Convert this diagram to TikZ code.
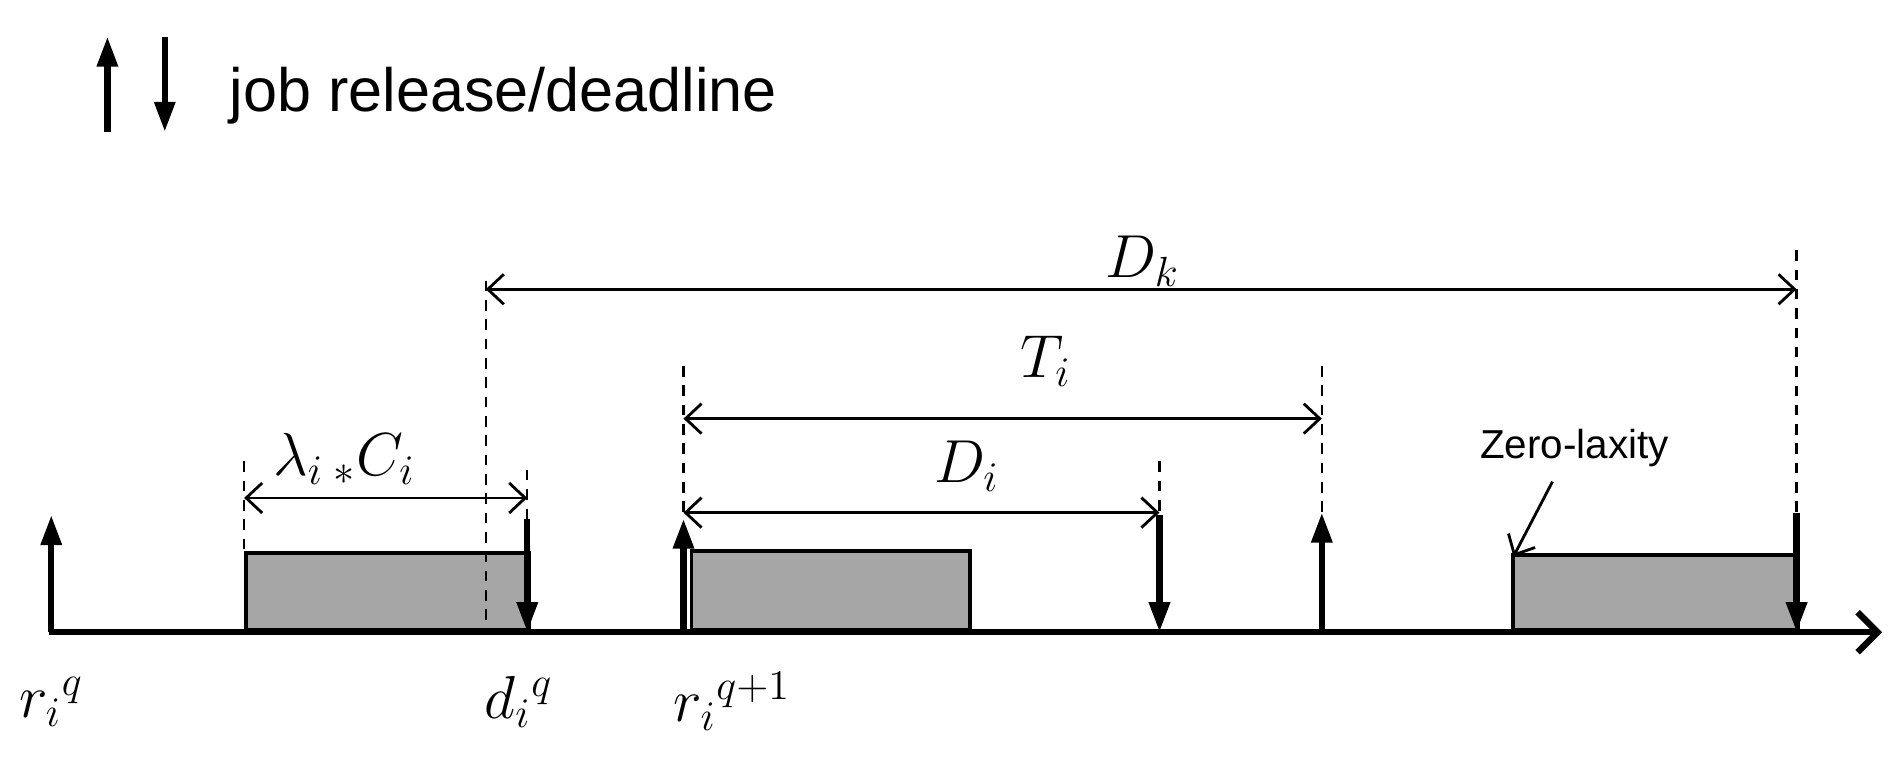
\documentclass[tikz,border=0pt]{standalone}
\usepackage{fontspec}
\setmainfont{Liberation Sans}
\usetikzlibrary{arrows.meta}
\begin{document}
\begin{tikzpicture}[x=0.0122cm,y=-0.0122cm,
  ev/.style={line width=1.8pt,-{Triangle[length=0.3cm,width=0.2cm]}},
  dim/.style={line width=0.8pt,{Straight Barb[length=0.16cm,width=0.3cm]}-{Straight Barb[length=0.16cm,width=0.3cm]}},
  guide/.style={line width=0.7pt,dash pattern=on 3pt off 2.5pt},
  job/.style={draw,line width=1.1pt,fill=black!35},
  lab/.style={inner sep=1pt,font=\fontsize{17}{20}\selectfont\itshape}]
\useasboundingbox (0,0) rectangle (1560,629);
% legend
\coordinate (l1a) at (88,108); \coordinate (l1b) at (88,30);
\coordinate (l2a) at (135,30); \coordinate (l2b) at (135,108);
\draw[ev] (l1a) -- (l1b);
\draw[ev] (l2a) -- (l2b);
\node[anchor=west,font=\fontsize{17.4}{20}\selectfont] (leg) at (178,78) {job release/deadline};
% jobs
\node[job,minimum width=232*0.0122cm,minimum height=63*0.0122cm,anchor=south west] (j1) at (200,518) {};
\node[job,minimum width=228*0.0122cm,minimum height=65*0.0122cm,anchor=south west] (j2) at (565,518) {};
\node[job,minimum width=234*0.0122cm,minimum height=62*0.0122cm,anchor=south west] (j3) at (1238,518) {};
% axis
\coordinate (a0) at (40,518); \coordinate (a1) at (1542,518);
\draw[line width=1.8pt,-{Straight Barb[length=0.2cm,width=0.4cm]}] (a0) -- (a1);
% coordinates
\foreach \n/\x/\y in {g1/200/378, g2/398/230, g3/432/385, g4/560/300, g5/950/378, g6/1083/300, g7/1472/205}
  \coordinate (\n) at (\x,\y);
\foreach \n/\x/\y in {b1/200/455, b2/398/518, b3/432/425, b4/560/425, b5/950/422, b6/1083/420, b7/1472/420}
  \coordinate (\n) at (\x,\y);
\foreach \i in {1,...,7} \draw[guide] (g\i) -- (b\i);
% release/deadline arrows
\coordinate (r0) at (42,518); \coordinate (r0t) at (42,422);
\draw[ev] (r0) -- (r0t);
\coordinate (d1) at (432,518); \draw[ev] (b3) -- (d1);
\coordinate (r1) at (560,518); \draw[ev] (r1) -- (b4);
\coordinate (d2) at (950,518); \draw[ev] (b5) -- (d2);
\coordinate (r2) at (1083,518); \draw[ev] (r2) -- (b6);
\coordinate (d3) at (1472,518); \draw[ev] (b7) -- (d3);
% dimensions
\coordinate (lc0) at (200,408); \coordinate (lc1) at (432,408);
\draw[dim] (lc0) -- (lc1);
\node[lab] (lct) at (282,376) {$\lambda_i\,{}_*C_i$};
\coordinate (di0) at (560,420); \coordinate (di1) at (950,420);
\draw[dim] (di0) -- (di1);
\node[lab] (dit) at (792,382) {$D_i$};
\coordinate (ti0) at (560,343); \coordinate (ti1) at (1083,343);
\draw[dim] (ti0) -- (ti1);
\node[lab] (tit) at (857,296) {$T_i$};
\coordinate (dk0) at (398,237); \coordinate (dk1) at (1472,237);
\draw[dim] (dk0) -- (dk1);
\node[lab] (dkt) at (936,214) {$D_k$};
% zero laxity
\node[font=\fontsize{11.5}{14}\selectfont] (zl) at (1290,367) {Zero-laxity};
\coordinate (zt) at (1240,456);
\draw[line width=0.8pt,-{Straight Barb[length=0.16cm,width=0.3cm]}] (zl.south) ++(-18,2) -- (zt);
% time labels
\node[lab] (lr0) at (42,575) {$r_i{}^q$};
\node[lab] (ld1) at (425,575) {$d_i{}^q$};
\node[lab] (lr1) at (600,575) {$r_i{}^{q+1}$};
\end{tikzpicture}
\end{document}
